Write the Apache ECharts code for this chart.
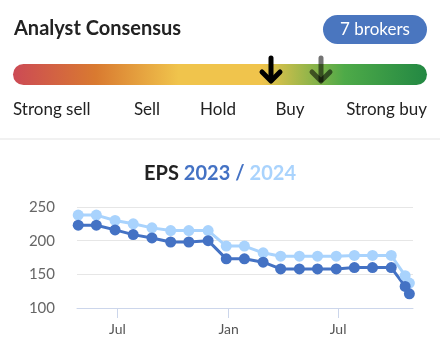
<!DOCTYPE html>
<html>
<head>
<meta charset="utf-8">
<script src="https://cdn.jsdelivr.net/npm/echarts@6/dist/echarts.min.js"></script>
<style>
    html, body {margin: 0; padding: 0; background: #fff;}
    #main {width: 440px; height: 354px;}
</style>
</head>
<body>
<div id="main"></div>
<script>
    // estimate dates (monthly revisions)
    var dates = ['2022-04-27', '2022-05-27', '2022-06-27', '2022-07-27', '2022-08-27', '2022-09-27',
        '2022-10-27', '2022-11-28', '2022-12-28', '2023-01-27', '2023-02-27', '2023-03-28',
        '2023-04-28', '2023-05-28', '2023-06-28', '2023-07-28', '2023-08-27', '2023-09-27',
        '2023-10-20', '2023-10-27'];
    var eps2023 = [223, 223, 216, 209, 204, 198, 198, 200, 173, 173, 168, 158, 158, 158, 158, 160, 160, 160, 132, 121];
    var eps2024 = [238, 238, 230, 225, 219, 215, 215, 215, 192, 192, 182, 177, 177, 177, 177, 178, 178, 178, 148, 137];
    var tickDates = ['2022-07-01', '2023-01-01', '2023-07-01'];
    var tickLabels = ['Jul', 'Jan', 'Jul'];
    var ratingLabels = ['Strong sell', 'Sell', 'Hold', 'Buy', 'Strong buy'];
    var brokers = 7;

    var font = 'Lato, "Open Sans", sans-serif';
    var myChart = echarts.init(document.getElementById('main'));

    function ts(d) {
        return Date.parse(d + 'T00:00:00Z');
    }

    function pairs(vals) {
        return vals.map(function (v, i) {
            return [ts(dates[i]), v];
        });
    }

    var tickValues = tickDates.map(ts);

    function arrow(x, opacity) {
        return {
            type: 'group',
            children: [
                {type: 'line', shape: {x1: x, y1: 58, x2: x, y2: 80},
                    style: {stroke: '#000', lineWidth: 5, lineCap: 'round', opacity: opacity}},
                {type: 'polyline', shape: {points: [[x - 9, 72], [x, 81], [x + 9, 72]]},
                    style: {stroke: '#000', lineWidth: 5, lineCap: 'round', lineJoin: 'round', fill: null, opacity: opacity}}
            ]
        };
    }

    var labelPos = [
        {x: 13, align: 'left'}, {x: 147, align: 'center'}, {x: 218, align: 'center'},
        {x: 290, align: 'center'}, {x: 427, align: 'right'}
    ];

    var graphic = [
        {type: 'text', left: 14, top: 19,
            style: {text: 'Analyst Consensus', font: 'bold 20px ' + font, fill: '#222'}},
        {type: 'rect', shape: {x: 323, y: 15, width: 104, height: 29, r: 14.5},
            style: {fill: '#4a76bf'}},
        {type: 'text', x: 375, y: 30,
            style: {text: brokers + ' brokers', font: '17px ' + font, fill: '#fff', align: 'center', verticalAlign: 'middle'}},
        {type: 'rect', shape: {x: 13, y: 64, width: 414, height: 21, r: 10.5},
            style: {
                fill: new echarts.graphic.LinearGradient(0, 0, 1, 0, [
                    {offset: 0, color: '#cc4a55'},
                    {offset: 0.2, color: '#d97a30'},
                    {offset: 0.4, color: '#f0c44c'},
                    {offset: 0.6, color: '#f0c44c'},
                    {offset: 0.8, color: '#4eaa48'},
                    {offset: 1, color: '#238843'}
                ])
            }},
        arrow(271, 1),
        arrow(321, 0.55),
        {type: 'line', shape: {x1: 0, y1: 139, x2: 440, y2: 139},
            style: {stroke: '#e3e3e3', lineWidth: 1}}
    ];
    ratingLabels.forEach(function (t, i) {
        graphic.push({type: 'text', x: labelPos[i].x, y: 110,
            style: {text: t, font: '17px ' + font, fill: '#222', align: labelPos[i].align, verticalAlign: 'middle'}});
    });

    var option = {
        animation: false,
        title: {
            text: '{a|EPS} {b|2023} {b|/} {c|2024}',
            left: 'center',
            top: 159,
            textStyle: {
                rich: {
                    a: {fontFamily: font, fontSize: 20, fontWeight: 'bold', color: '#222'},
                    b: {fontFamily: font, fontSize: 20, fontWeight: 'bold', color: '#4472c4'},
                    c: {fontFamily: font, fontSize: 20, fontWeight: 'bold', color: '#a9d3fd'}
                }
            }
        },
        graphic: graphic,
        grid: {left: 77, right: 27, top: 207, bottom: 46},
        xAxis: {
            type: 'value',
            min: ts('2022-04-25'),
            max: ts('2023-11-02'),
            splitLine: {show: false},
            axisLine: {lineStyle: {color: '#ccd6eb', width: 1}},
            axisTick: {
                show: true, length: 10, lineStyle: {color: '#ccd6eb'},
                customValues: tickValues
            },
            axisLabel: {
                fontFamily: font, fontSize: 14, color: '#555', margin: 14,
                customValues: tickValues,
                formatter: function (v) {
                    return tickLabels[tickValues.indexOf(v)];
                }
            }
        },
        yAxis: {
            type: 'value',
            min: 100,
            max: 250,
            interval: 50,
            axisLine: {show: false},
            axisTick: {show: false},
            splitLine: {lineStyle: {color: '#e6e6e6', width: 1}},
            axisLabel: {fontFamily: font, fontSize: 15, color: '#666', margin: 22}
        },
        series: [
            {
                name: '2024',
                type: 'line',
                data: pairs(eps2024),
                symbol: 'circle',
                symbolSize: 11,
                itemStyle: {color: '#a9d3fd'},
                lineStyle: {width: 3, color: '#a9d3fd'}
            },
            {
                name: '2023',
                type: 'line',
                data: pairs(eps2023),
                symbol: 'circle',
                symbolSize: 11,
                itemStyle: {color: '#4472c4'},
                lineStyle: {width: 3, color: '#4472c4'}
            }
        ]
    };
    myChart.setOption(option);
</script>
</body>
</html>
